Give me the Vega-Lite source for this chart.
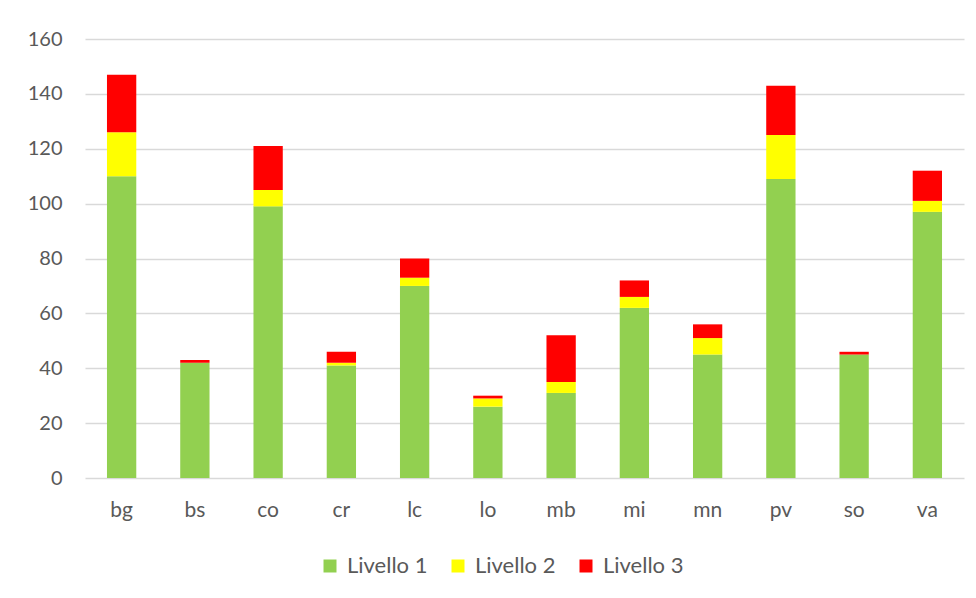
{
  "$schema": "https://vega.github.io/schema/vega-lite/v6.json",
  "width": 879,
  "height": 439,
  "autosize": {"type": "none"},
  "padding": {"left": 85, "top": 39, "right": 12, "bottom": 120},
  "background": "#ffffff",
  "data": {
    "values": [
      {"provincia": "bg", "livello": "Livello 1", "n": 110},
      {"provincia": "bg", "livello": "Livello 2", "n": 16},
      {"provincia": "bg", "livello": "Livello 3", "n": 21},
      {"provincia": "bs", "livello": "Livello 1", "n": 42},
      {"provincia": "bs", "livello": "Livello 2", "n": 0},
      {"provincia": "bs", "livello": "Livello 3", "n": 1},
      {"provincia": "co", "livello": "Livello 1", "n": 99},
      {"provincia": "co", "livello": "Livello 2", "n": 6},
      {"provincia": "co", "livello": "Livello 3", "n": 16},
      {"provincia": "cr", "livello": "Livello 1", "n": 41},
      {"provincia": "cr", "livello": "Livello 2", "n": 1},
      {"provincia": "cr", "livello": "Livello 3", "n": 4},
      {"provincia": "lc", "livello": "Livello 1", "n": 70},
      {"provincia": "lc", "livello": "Livello 2", "n": 3},
      {"provincia": "lc", "livello": "Livello 3", "n": 7},
      {"provincia": "lo", "livello": "Livello 1", "n": 26},
      {"provincia": "lo", "livello": "Livello 2", "n": 3},
      {"provincia": "lo", "livello": "Livello 3", "n": 1},
      {"provincia": "mb", "livello": "Livello 1", "n": 31},
      {"provincia": "mb", "livello": "Livello 2", "n": 4},
      {"provincia": "mb", "livello": "Livello 3", "n": 17},
      {"provincia": "mi", "livello": "Livello 1", "n": 62},
      {"provincia": "mi", "livello": "Livello 2", "n": 4},
      {"provincia": "mi", "livello": "Livello 3", "n": 6},
      {"provincia": "mn", "livello": "Livello 1", "n": 45},
      {"provincia": "mn", "livello": "Livello 2", "n": 6},
      {"provincia": "mn", "livello": "Livello 3", "n": 5},
      {"provincia": "pv", "livello": "Livello 1", "n": 109},
      {"provincia": "pv", "livello": "Livello 2", "n": 16},
      {"provincia": "pv", "livello": "Livello 3", "n": 18},
      {"provincia": "so", "livello": "Livello 1", "n": 45},
      {"provincia": "so", "livello": "Livello 2", "n": 0},
      {"provincia": "so", "livello": "Livello 3", "n": 1},
      {"provincia": "va", "livello": "Livello 1", "n": 97},
      {"provincia": "va", "livello": "Livello 2", "n": 4},
      {"provincia": "va", "livello": "Livello 3", "n": 11}
    ]
  },
  "mark": {"type": "bar"},
  "encoding": {
    "x": {
      "field": "provincia",
      "type": "nominal",
      "sort": null,
      "title": null,
      "scale": {"paddingInner": 0.6, "paddingOuter": 0.3},
      "axis": {
        "labelAngle": 0,
        "domain": false,
        "ticks": false,
        "labelPadding": 21,
        "labelFont": "Lato",
        "labelFontSize": 21,
        "labelColor": "#595959"
      }
    },
    "y": {
      "field": "n",
      "type": "quantitative",
      "stack": "zero",
      "title": null,
      "scale": {"domain": [0, 160], "nice": false},
      "axis": {
        "values": [0, 20, 40, 60, 80, 100, 120, 140, 160],
        "domain": false,
        "ticks": false,
        "labelPadding": 23,
        "labelFont": "Lato",
        "labelFontSize": 20,
        "labelColor": "#595959",
        "gridColor": "#d9d9d9",
        "gridWidth": 1.5
      }
    },
    "color": {
      "field": "livello",
      "type": "nominal",
      "title": null,
      "scale": {
        "domain": ["Livello 1", "Livello 2", "Livello 3"],
        "range": ["#92D050", "#FFFF00", "#FF0000"]
      },
      "legend": {
        "orient": "none",
        "legendX": 234,
        "legendY": 516,
        "direction": "horizontal",
        "symbolType": "square",
        "symbolSize": 169,
        "symbolStrokeWidth": 0,
        "labelFont": "Lato",
        "labelFontSize": 22,
        "labelColor": "#595959",
        "columnPadding": 19,
        "labelOffset": 6
      }
    },
    "order": {"field": "livello", "sort": "ascending"}
  },
  "config": {
    "view": {"stroke": null}
  }
}
